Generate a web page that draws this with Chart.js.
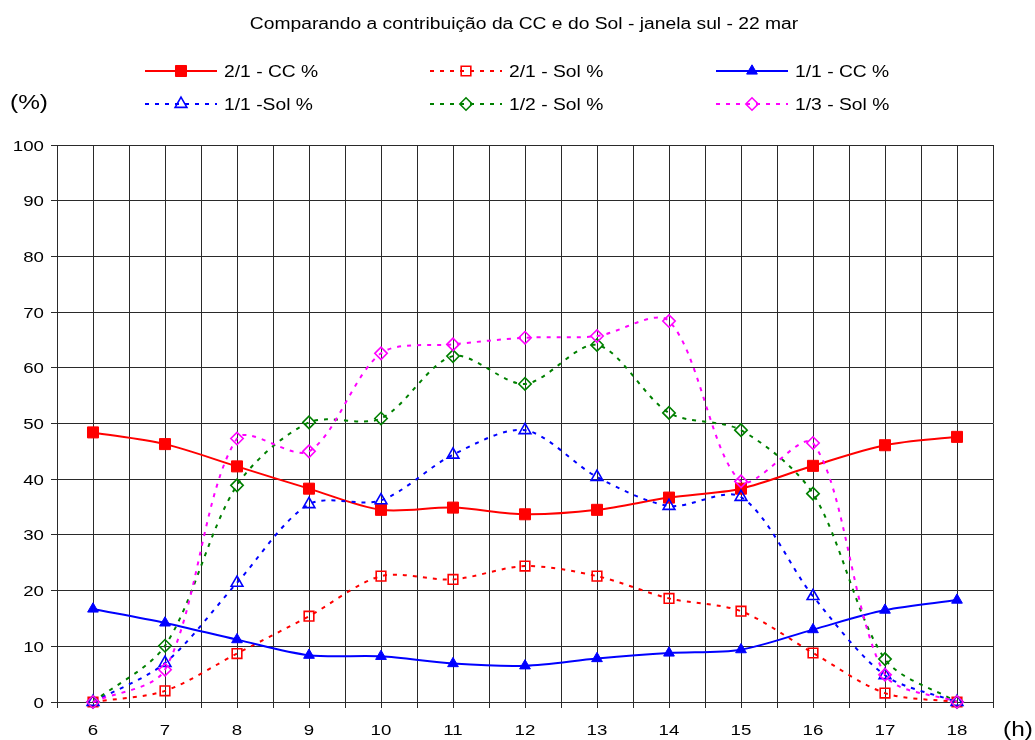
<!DOCTYPE html>
<html>
<head>
<meta charset="utf-8">
<script src="https://cdn.jsdelivr.net/npm/chart.js@4"></script>
<style>
  html, body { margin: 0; padding: 0; background: #ffffff; }
  canvas { display: block; }
</style>
</head>
<body>
<canvas id="chart" width="1035" height="740"></canvas>
<script>
// Hours of the day (x categories) and y tick labels
const hours = [6, 7, 8, 9, 10, 11, 12, 13, 14, 15, 16, 17, 18];
const yTickLabels = [0, 10, 20, 30, 40, 50, 60, 70, 80, 90, 100];

// Series values (%)
const cc21  = [48.4, 46.3, 42.3, 38.3, 34.5, 34.9, 33.7, 34.5, 36.7, 38.3, 42.4, 46.1, 47.6];
const sol21 = [0, 2.0, 8.7, 15.4, 22.6, 22.0, 24.4, 22.6, 18.6, 16.3, 8.8, 1.6, 0];
const cc11  = [16.7, 14.2, 11.2, 8.4, 8.2, 6.9, 6.5, 7.8, 8.8, 9.4, 13.0, 16.5, 18.3];
const sol11 = [0, 7.0, 21.4, 35.5, 36.2, 44.4, 48.8, 40.4, 35.2, 36.8, 19.0, 4.8, 0];
const sol12 = [0, 10.1, 38.9, 50.2, 50.9, 62.1, 57.1, 64.1, 51.9, 48.8, 37.4, 7.7, 0];
const sol13 = [0, 5.8, 47.3, 45.0, 62.6, 64.2, 65.4, 65.7, 68.4, 39.6, 46.5, 4.9, 0];

const titleText = 'Comparando a contribuição da CC e do Sol - janela sul - 22 mar';
const FONT = '"Liberation Sans", Arial, Helvetica, sans-serif';
const SX = 1.22; // horizontal text stretch

const pts = vals => hours.map((h, i) => ({ x: h, y: vals[i] }));
const DOT = [4, 6];

function series(label, vals, color, style, filled, dashed, radius, order) {
  return {
    label,
    data: pts(vals),
    borderColor: color,
    backgroundColor: color,
    borderWidth: 2,
    borderDash: dashed ? DOT : [],
    pointStyle: style,
    pointRadius: radius,
    pointBorderColor: color,
    pointBackgroundColor: filled ? color : 'rgba(0,0,0,0)',
    pointBorderWidth: filled ? 1 : 1.6,
    tension: 0.3,
    fill: false,
    clip: false,
    order
  };
}

const datasets = [
  series('2/1 - CC %',  cc21,  '#ff0000', 'rect',     true,  false, 7.8, 6),
  series('2/1 - Sol %', sol21, '#ff0000', 'rect',     false, true,  6.8, 5),
  series('1/1 - CC %',  cc11,  '#0000ff', 'triangle', true,  false, 6.2, 4),
  series('1/1 -Sol %',  sol11, '#0000ff', 'triangle', false, true,  6.8, 3),
  series('1/2 - Sol %', sol12, '#008000', 'rectRot',  false, true,  6.2, 2),
  series('1/3 - Sol %', sol13, '#ff00ff', 'rectRot',  false, true,  6.2, 1)
];

function stretchedText(ctx, str, x, y, size, align) {
  ctx.save();
  ctx.font = size + 'px ' + FONT;
  ctx.textBaseline = 'alphabetic';
  ctx.textAlign = 'left';
  ctx.fillStyle = '#000000';
  const w = ctx.measureText(str).width * SX;
  const left = align === 'center' ? x - w / 2 : (align === 'right' ? x - w : x);
  ctx.translate(left, y);
  ctx.scale(SX, 1);
  ctx.fillText(str, 0, 0);
  ctx.restore();
}

function marker(ctx, ds, x, y) {
  ctx.save();
  ctx.strokeStyle = ds.pointBorderColor;
  ctx.fillStyle = ds.pointBackgroundColor;
  ctx.lineWidth = ds.pointBorderWidth;
  ctx.setLineDash([]);
  Chart.helpers.drawPoint(ctx, {
    pointStyle: ds.pointStyle, radius: ds.pointRadius, rotation: 0, borderWidth: ds.pointBorderWidth
  }, x, y);
  ctx.restore();
}

// Title, legend, axis captions and tick labels
const textLayer = {
  id: 'textLayer',
  afterDraw(chart) {
    const ctx = chart.ctx;
    stretchedText(ctx, titleText, 524, 29, 15.8, 'center');

    const cols = [145, 430, 716];
    const rows = [71, 104];
    chart.data.datasets.forEach((ds, i) => {
      const x0 = cols[i % 3], y = rows[Math.floor(i / 3)];
      const x1 = x0 + 72;
      ctx.save();
      ctx.strokeStyle = ds.borderColor;
      ctx.lineWidth = ds.borderWidth;
      ctx.setLineDash(ds.borderDash);
      ctx.beginPath();
      ctx.moveTo(x0, y);
      ctx.lineTo(x1, y);
      ctx.stroke();
      ctx.restore();
      marker(ctx, ds, (x0 + x1) / 2, y);
      stretchedText(ctx, ds.label, x1 + 7, y + 6, 15.8, 'left');
    });

    stretchedText(ctx, '(%)', 10, 109, 20, 'left');
    stretchedText(ctx, '(h)', 1003, 736, 20, 'left');

    const ys = chart.scales.y, xs = chart.scales.x;
    yTickLabels.forEach(v => {
      stretchedText(ctx, String(v), 44, ys.getPixelForValue(v) + 5.5, 15.3, 'right');
    });
    hours.forEach(h => {
      stretchedText(ctx, String(h), xs.getPixelForValue(h), 735, 15.3, 'center');
    });
  }
};

const gridColor = '#2a2a2a';

new Chart(document.getElementById('chart'), {
  type: 'line',
  data: { datasets },
  options: {
    responsive: false,
    animation: false,
    devicePixelRatio: 1,
    layout: { padding: { left: 0, right: 42, top: 145, bottom: 0 } },
    plugins: {
      legend: { display: false },
      title: { display: false },
      tooltip: { enabled: false }
    },
    scales: {
      x: {
        type: 'linear',
        min: 5.5,
        max: 18.5,
        ticks: { stepSize: 0.5, display: false, autoSkip: false },
        grid: { color: gridColor, lineWidth: 1, tickLength: 6, drawTicks: true },
        border: { color: gridColor, width: 1 },
        afterFit(scale) { scale.height = 38; }
      },
      y: {
        type: 'linear',
        min: 0,
        max: 100,
        ticks: { stepSize: 10, display: false },
        grid: { color: gridColor, lineWidth: 1, tickLength: 6, drawTicks: true },
        border: { color: gridColor, width: 1 },
        afterFit(scale) { scale.width = 57; }
      }
    }
  },
  plugins: [textLayer]
});
</script>
</body>
</html>
